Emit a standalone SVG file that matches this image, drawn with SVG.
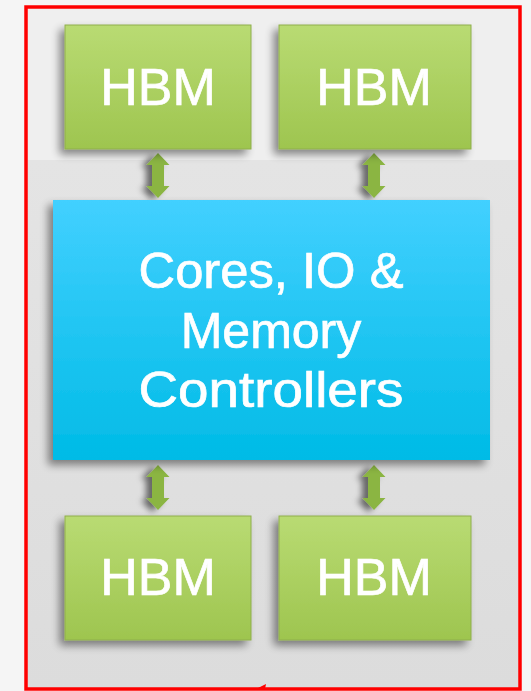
<svg xmlns="http://www.w3.org/2000/svg" width="531" height="691" viewBox="0 0 531 691">
<defs>
<linearGradient id="gGreen" x1="0" y1="0" x2="0" y2="1">
<stop offset="0" stop-color="#b9db73"/>
<stop offset="1" stop-color="#9ec54f"/>
</linearGradient>
<linearGradient id="gBlue" x1="0" y1="0" x2="0" y2="1">
<stop offset="0" stop-color="#42d0ff"/>
<stop offset="1" stop-color="#00bbe6"/>
</linearGradient>
<linearGradient id="gBg" x1="0" y1="0" x2="0" y2="1">
<stop offset="0" stop-color="#e4e4e4"/>
<stop offset="1" stop-color="#dcdcdc"/>
</linearGradient>
<filter id="shadow" x="-20%" y="-20%" width="140%" height="150%">
<feGaussianBlur in="SourceAlpha" stdDeviation="4"/>
<feOffset dx="-5" dy="5" result="b"/>
<feComponentTransfer><feFuncA type="linear" slope="0.45"/></feComponentTransfer>
<feMerge><feMergeNode/><feMergeNode in="SourceGraphic"/></feMerge>
</filter>
<filter id="ashadow" x="-80%" y="-20%" width="200%" height="140%">
<feGaussianBlur in="SourceAlpha" stdDeviation="3"/>
<feOffset dx="-6" dy="2" result="b"/>
<feComponentTransfer><feFuncA type="linear" slope="0.55"/></feComponentTransfer>
<feMerge><feMergeNode/><feMergeNode in="SourceGraphic"/></feMerge>
</filter>
<path id="dblArrow" d="M0,0 L11.5,12 L6,12 L6,33 L11.5,33 L0,45 L-11.5,33 L-6,33 L-6,12 L-11.5,12 Z"/>
</defs>
<style>
.hbm{fill:url(#gGreen);stroke:#8fae4c;stroke-width:1;filter:url(#shadow)}
.lbl{font-family:"Liberation Sans",Arial,sans-serif;fill:#ffffff;stroke:#ffffff;stroke-width:0.7;text-anchor:middle}
.h{font-size:52px}
.c{font-size:50px}
.arr{fill:#8bb543;filter:url(#ashadow)}
</style>
<rect x="0" y="0" width="531" height="691" fill="#f5f5f5"/>
<rect x="26" y="7" width="494" height="682" fill="#efefef"/>
<rect x="27" y="160" width="492" height="528" fill="url(#gBg)"/>
<g id="connectors">
<use href="#dblArrow" x="158" y="153" class="arr"/>
<use href="#dblArrow" x="374" y="153" class="arr"/>
<use href="#dblArrow" x="158" y="465" class="arr"/>
<use href="#dblArrow" x="374" y="465" class="arr"/>
</g>
<g id="hbm-top-left">
<rect x="65" y="25" width="186" height="124" class="hbm"/>
<text x="158" y="105" class="lbl h">HBM</text>
</g>
<g id="hbm-top-right">
<rect x="279" y="25" width="192" height="124" class="hbm"/>
<text x="374" y="105" class="lbl h">HBM</text>
</g>
<g id="core">
<rect x="53" y="200" width="437" height="260" fill="url(#gBlue)" filter="url(#shadow)"/>
<text x="271" y="288" class="lbl c" textLength="265" lengthAdjust="spacingAndGlyphs">Cores, IO &amp;</text>
<text x="271" y="348" class="lbl c">Memory</text>
<text x="271" y="407" class="lbl c" textLength="265" lengthAdjust="spacingAndGlyphs">Controllers</text>
</g>
<g id="hbm-bottom-left">
<rect x="65" y="516" width="186" height="124" class="hbm"/>
<text x="158" y="595" class="lbl h">HBM</text>
</g>
<g id="hbm-bottom-right">
<rect x="279" y="516" width="192" height="124" class="hbm"/>
<text x="374" y="595" class="lbl h">HBM</text>
</g>
<rect x="26" y="7" width="494" height="682" fill="none" stroke="#ff0000" stroke-width="3.5"/>
<polygon points="256,689 266,684 265,689" fill="#ff0000"/>
</svg>
